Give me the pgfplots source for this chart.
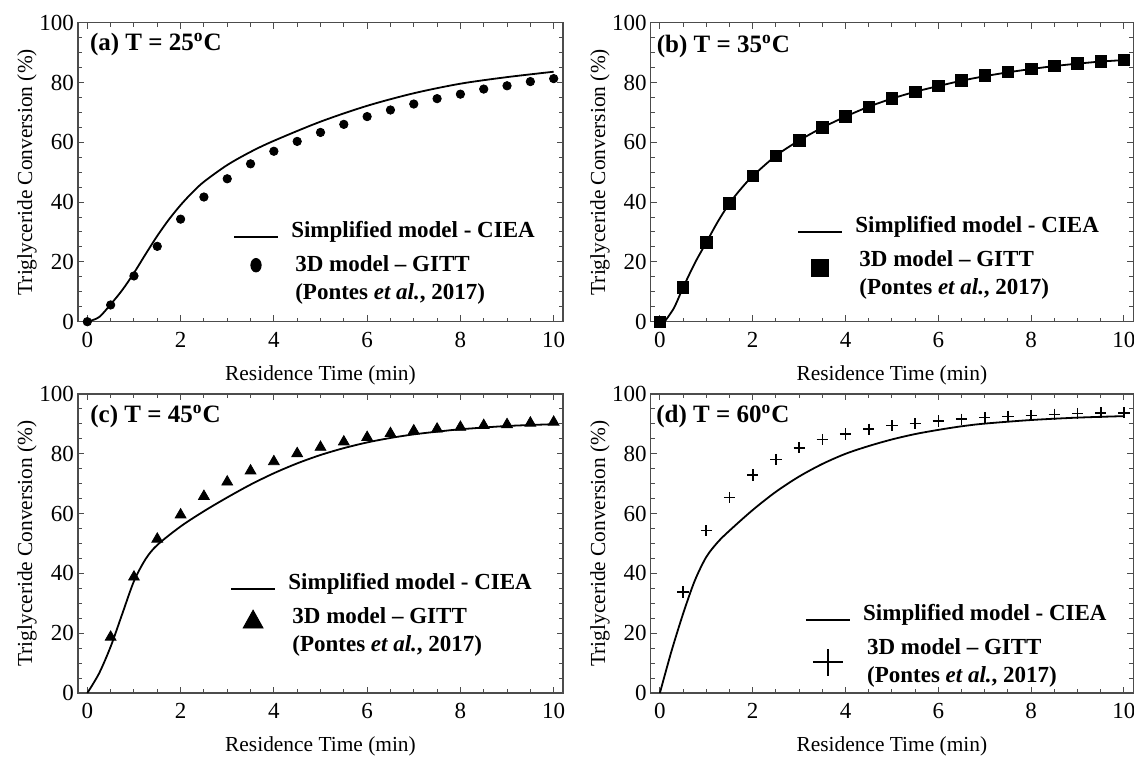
\documentclass[border=0pt]{standalone}
\usepackage{fontspec}
\setmainfont{Liberation Serif}
\usepackage{pgfplots}
\pgfplotsset{compat=1.18}

\pgfplotsset{
  panel/.style={
    scale only axis, height=149.5pt,
    xmin=-0.2, xmax=10.2, ymin=0, ymax=100,
    xtick={0,2,...,10}, ytick={0,20,...,100},
    minor x tick num=3, minor y tick num=3,
    tick align=inside, tick pos=both, xticklabel pos=lower, yticklabel pos=left,
    major tick length=3.2pt, minor tick length=2pt,
    axis line style={black!70, line width=0.6pt},
    every tick/.style={black!70, line width=0.5pt},
    tick label style={font=\fontsize{11.5}{13}\selectfont},
    xticklabel style={yshift=-1.6pt},
    yticklabel style={xshift=1.5pt},
    /pgf/number format/assume math mode=true,
    label style={font=\fontsize{10.7}{12}\selectfont},
    xlabel={Residence Time (min)},
    ylabel={Triglyceride Conversion (\%)},
    xlabel style={at={(axis description cs:0.5,-0.178)}, anchor=center},
    ylabel style={at={(axis description cs:-0.105,0.5)}, anchor=center},
    legend style={draw=none, fill=none, inner sep=0pt, outer sep=0pt,
      row sep=7.5pt, column sep=6pt, nodes={inner sep=0pt},
      font=\bfseries\fontsize{11.5}{13}\selectfont, anchor=north west},
    legend cell align=left,
  },
  curve/.style={black, line width=0.9pt, smooth, tension=0.5, forget plot},
  pts/.style={black, only marks, forget plot},
  lineleg/.style={legend image code/.code={\draw[line width=1.3pt] (0pt,-3pt) -- (22pt,-3pt);}},
}
\tikzset{titlenode/.style={anchor=base west, inner sep=0pt, font=\bfseries\fontsize{12.5}{14}\selectfont}}
\newcommand{\legA}{Simplified model - CIEA}
\newcommand{\legB}{\vtop{\baselineskip=14pt\hbox{\hspace*{2pt}3D model -- GITT}\hbox{\hspace*{2pt}(Pontes \textit{et al.}, 2017)}}}

\begin{document}
\begin{tikzpicture}
\useasboundingbox (0,0) rectangle (567pt,378pt);

% (a)
\begin{axis}[panel, width=242.5pt, at={(39pt,217.15pt)}, anchor=south west,
  legend style={at={(0.319,0.335)}}]
\addplot[curve] coordinates {
(0,0) (0.25,1.5) (0.5,5.8) (0.75,10.6) (1.0,16.3) (1.25,22.6) (1.5,28.7) (1.75,34.2)
(2.0,39.0) (2.25,43.2) (2.5,46.8) (3.0,52.4) (3.5,56.8) (4.0,60.5) (5.0,66.9) (6.0,72.2)
(7.0,76.4) (8.0,79.6) (9.0,81.8) (10.0,83.6)};
\addplot[pts, mark=*, mark size=2.1pt] coordinates {
(0,0) (0.5,5.6) (1.0,15.3) (1.5,25.2) (2.0,34.3) (2.5,41.7) (3.0,47.8) (3.5,52.8)
(4.0,57.0) (4.5,60.3) (5.0,63.3) (5.5,66.0) (6.0,68.6) (6.5,70.8) (7.0,72.8)
(7.5,74.6) (8.0,76.1) (8.5,77.8) (9.0,78.9) (9.5,80.3) (10.0,81.3)};
\addlegendimage{lineleg}
\addlegendentry{\legA}
\addlegendimage{legend image code/.code={\fill (11pt,0pt) ellipse [x radius=2.6pt, y radius=3.4pt];}}
\addlegendentry{\legB}
\node[titlenode] at (rel axis cs:0,1) [xshift=5.8pt, yshift=-14pt] {(a) T = 25\textsuperscript{o}C};
\end{axis}

% (b)
\begin{axis}[panel, width=241.3pt, at={(325.3pt,217.15pt)}, anchor=south west,
  legend style={at={(0.303,0.352)}}]
\addplot[curve] coordinates {
(0.1,0) (0.3,4.5) (0.5,11.4) (0.75,19.5) (1.0,26.5) (1.25,33.5) (1.5,39.6) (1.75,44.5)
(2.0,48.7) (2.5,55.5) (3.0,60.6) (3.5,64.9) (4.0,68.6) (4.5,71.9) (5.0,74.6)
(5.5,76.9) (6.0,78.8) (6.5,80.6) (7.0,82.1) (7.5,83.4) (8.0,84.5) (8.5,85.5)
(9.0,86.3) (9.5,87.0) (10.0,87.5)};
\addplot[pts, mark=square*, mark size=2.9pt] coordinates {
(0,0) (0.5,11.4) (1.0,26.5) (1.5,39.6) (2.0,48.7) (2.5,55.5) (3.0,60.6) (3.5,64.9)
(4.0,68.6) (4.5,71.9) (5.0,74.6) (5.5,76.9) (6.0,78.8) (6.5,80.8) (7.0,82.3)
(7.5,83.5) (8.0,84.6) (8.5,85.5) (9.0,86.4) (9.5,87.1) (10.0,87.5)};
\addlegendimage{lineleg}
\addlegendentry{\legA}
\addlegendimage{legend image code/.code={\fill (6.8pt,-8.2pt) rectangle (15.2pt,0.2pt);}}
\addlegendentry{\legB}
\node[titlenode] at (rel axis cs:0,1) [xshift=2.9pt, yshift=-14.7pt] {(b) T = 35\textsuperscript{o}C};
\end{axis}

% (c)
\begin{axis}[panel, width=242.5pt, at={(39pt,31.5pt)}, anchor=south west,
  legend style={at={(0.313,0.400)}}]
\addplot[curve] coordinates {
(0,0) (0.25,6.5) (0.5,15.5) (0.75,26.5) (1.0,37.4) (1.25,44.8) (1.5,49.5) (2.0,55.7)
(2.5,60.8) (3.0,65.4) (3.5,69.7) (4.0,73.5) (4.5,76.8) (5.0,79.6) (5.5,81.9)
(6.0,83.8) (6.5,85.3) (7.0,86.5) (7.5,87.4) (8.0,88.2) (9.0,89.3) (10.0,89.9)};
\addplot[pts, mark=triangle*, mark size=3.1pt] coordinates {
(0.5,18.7) (1.0,38.8) (1.5,51.5) (2.0,59.6) (2.5,65.8) (3.0,70.6) (3.5,74.3)
(4.0,77.4) (4.5,80.1) (5.0,82.2) (5.5,84.0) (6.0,85.5) (6.5,86.8) (7.0,87.7)
(7.5,88.3) (8.0,88.9) (8.5,89.5) (9.0,89.8) (9.5,90.3) (10.0,90.6)};
\addlegendimage{lineleg}
\addlegendentry{\legA}
\addlegendimage{legend image code/.code={\fill (6pt,-5.5pt) -- (16pt,-5.5pt) -- (11pt,3.5pt) -- cycle;}}
\addlegendentry{\legB}
\node[titlenode] at (rel axis cs:0,1) [xshift=6pt, yshift=-14pt] {(c) T = 45\textsuperscript{o}C};
\end{axis}

% (d)
\begin{axis}[panel, width=241.3pt, at={(325.3pt,31.5pt)}, anchor=south west,
  legend style={at={(0.319,0.296)}}]
\addplot[curve] coordinates {
(0,0) (0.25,14) (0.5,26.5) (0.75,37.5) (1.0,45.5) (1.25,50.5) (1.5,54.3) (2.0,61.2)
(2.5,67.3) (3.0,72.4) (3.5,76.6) (4.0,80.0) (4.5,82.6) (5.0,84.8) (5.5,86.6)
(6.0,88.0) (6.5,89.2) (7.0,90.1) (8.0,91.3) (9.0,92.1) (10.0,92.6)};
\addplot[pts, mark=+, mark size=2.8pt, mark options={line width=0.8pt}] coordinates {
(0.5,33.8) (1.0,54.3) (1.5,65.4) (2.0,72.9) (2.5,78.1) (3.0,82.0) (3.5,84.8)
(4.0,86.6) (4.5,88.2) (5.0,89.4) (5.5,90.1) (6.0,91.0) (6.5,91.6) (7.0,92.1)
(7.5,92.5) (8.0,92.8) (8.5,93.2) (9.0,93.5) (9.5,93.7) (10.0,93.7)};
\addlegendimage{lineleg}
\addlegendentry{\legA}
\addlegendimage{legend image code/.code={\draw[line width=1.3pt] (3.5pt,-7pt) -- (18.5pt,-7pt) (11pt,-13.8pt) -- (11pt,-0.2pt);}}
\addlegendentry{\legB}
\node[titlenode] at (rel axis cs:0,1) [xshift=2.7pt, yshift=-14pt] {(d) T = 60\textsuperscript{o}C};
\end{axis}
\end{tikzpicture}
\end{document}
